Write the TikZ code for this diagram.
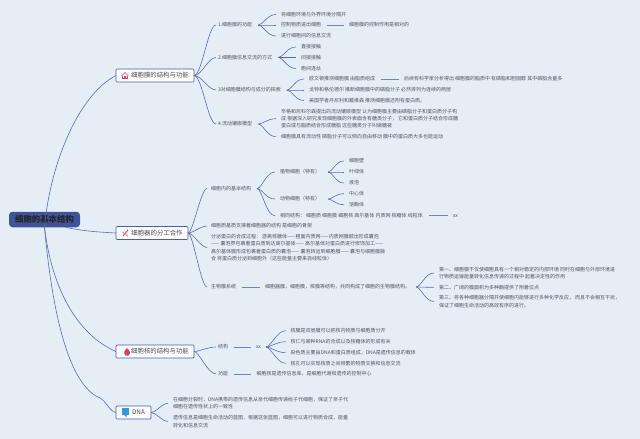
\documentclass[tikz,border=0pt]{standalone}
\usepackage{fontspec}
\setmainfont{Noto Sans CJK SC}
\usetikzlibrary{calc}
\definecolor{bgc}{HTML}{E6EEF5}
\definecolor{linec}{HTML}{5A6BB0}
\definecolor{boxc}{HTML}{4A5CA8}
\definecolor{rootc}{HTML}{3F539C}
\definecolor{txtc}{HTML}{50545E}
\definecolor{iconred}{HTML}{D8406A}
\definecolor{iconblue}{HTML}{2F9BE0}
\tikzset{
  x=1pt,y=-1pt,
  leaf/.style={anchor=west,inner sep=0pt,outer sep=0pt,font=\fontsize{5}{7.4}\selectfont,text=txtc,align=left},
  topic/.style={draw=boxc,fill=white,line width=0.7pt,rounded corners=1pt,inner sep=0pt,outer sep=0pt,minimum height=13pt,text=black!70,font=\fontsize{6.4}{8}\selectfont},
  rootbox/.style={fill=rootc,rounded corners=3.5pt,inner sep=0pt,outer sep=0pt,minimum width=71pt,minimum height=15.5pt,font=\bfseries\fontsize{8.4}{10}\selectfont,text=black!85},
  link/.style={draw=linec,line width=0.6pt},
  barlink/.style={draw=linec!85,line width=0.7pt},
}
% fork from the parent's east side (gap #3) to the child's west side (gap 5)
\newcommand{\fork}[3]{%
  \coordinate (fs) at ($(#1.east)+(#3,0)$);
  \coordinate (fe) at ($(#2.west)+(-5,0)$);
  \draw[link] (fs) .. controls ($(fs)+(5,0)$) and ($(fe)+(-9,0)$) .. (fe);}
% straight bar between two neighbouring texts
\newcommand{\barlk}[2]{\draw[barlink] ($(#1.east)+(6,0)$) -- ($(#2.west)+(-5.5,0)$);}
\begin{document}
\begin{tikzpicture}
\useasboundingbox (0,0) rectangle (640,439);
\fill[bgc] (0,0) rectangle (640,439);

% root and topics
\node[rootbox] (R) at (44.5,219.5) {细胞的基本结构};
\node[topic,minimum width=78pt] (T1) at (155,75.5) {\hspace{10pt}细胞膜的结构与功能};
\node[topic,minimum width=72pt] (T2) at (152,233) {\hspace{10pt}细胞器的分工合作};
\node[topic,minimum width=78pt] (T3) at (155,351.5) {\hspace{10pt}细胞核的结构与功能};
\node[topic,minimum width=35pt] (T4) at (133.5,412.5) {\hspace{10pt}DNA};

% root links
\draw[link] (R.south) .. controls (50,165) and (78,95) .. (T1.west);
\draw[link] ($(R.south)+(21,0)$) .. controls (82,231) and (98,232) .. (T2.west);
\draw[link] (R.south) .. controls (52,290) and (78,335) .. (T3.west);
\draw[link] (R.south) .. controls (52,310) and (68,385) .. (100,398) .. controls (106,401) and (110,412) .. (T4.west);

% icons
\begin{scope}[iconred,line width=0.6pt]
 \draw (121.5,76) -- (125,72.5) -- (128.5,76);
 \draw (122.7,75.5) -- (122.7,78.7) -- (127.3,78.7) -- (127.3,75.5);
 \fill (124.2,76.2) rectangle (125.8,78.7);
 \draw[line width=0.9pt] (123,236) -- (128,230);
 \draw[line width=0.9pt,iconred!65] (122.5,232) -- (128,236.5);
 \fill (127,348) .. controls (130,350.5) and (131,353) .. (128.6,355.5) -- (125.4,355.5) .. controls (123,353) and (124.5,350.5) .. (127,348) -- cycle;
\end{scope}
\fill[iconblue] (122,408) rectangle (128.5,414.5);
\fill[iconblue] (123.5,414.5) -- (126.5,414.5) -- (126.5,417) -- cycle;

% ---- topic 1
\node[leaf] (a1) at (218,25) {1.细胞膜的功能};
\node[leaf] (a2) at (218,57.5) {2.细胞膜信息交流的方式};
\node[leaf] (a3) at (218,90) {3对细胞膜结构与成分的探索};
\node[leaf] (a4) at (218,124) {4.流动镶嵌模型};
\foreach \n in {a1,a2,a3,a4} {\draw[link] (T1.east) .. controls ($(T1.east)+(8,0)$) and ($(\n.west)+(-10,0)$) .. ($(\n.west)+(-2,0)$);}

\node[leaf] (a11) at (281,14.5) {将细胞环境与外界环境分隔开};
\node[leaf] (a12) at (281,25) {控制物质进出细胞};
\node[leaf] (a13) at (281,36) {进行细胞间的信息交流};
\node[leaf] (a121) at (349,25) {细胞膜的控制作用是相对的};
\fork{a1}{a11}{6}\fork{a1}{a12}{6}\fork{a1}{a13}{6}
\barlk{a12}{a121}

\node[leaf] (a21) at (301,47) {直接接触};
\node[leaf] (a22) at (301,57.5) {间接接触};
\node[leaf] (a23) at (301,68.5) {胞间连丝};
\fork{a2}{a21}{6}\fork{a2}{a22}{6}\fork{a2}{a23}{6}

\node[leaf] (a31) at (309,79) {欧文顿推测细胞膜 由脂质组成};
\node[leaf] (a32) at (309,90) {戈特和格伦德尔 推断细胞膜中的磷脂分子 必然排列为连续的两层};
\node[leaf] (a33) at (309,100.5) {美国学者丹尼利和戴维森 推测细胞膜还附有蛋白质。};
\node[leaf] (a311) at (404,79) {后续有科学家分析得出 细胞膜的脂质中 有磷脂和胆固醇 其中磷脂含量多};
\fork{a3}{a31}{6}\fork{a3}{a32}{6}\fork{a3}{a33}{6}
\barlk{a31}{a311}

\node[leaf] (a41) at (281,118.7) {辛格和尼科尔森提出的流动镶嵌模型 认为细胞膜主要由磷脂分子和蛋白质分子构\\成 根据深入研究发现细胞膜的外表面含有糖类分子， 它和蛋白质分子结合形成糖\\蛋白或与脂质结合形成糖脂 这些糖类分子叫做糖被};
\node[leaf] (a42) at (281,136.7) {细胞膜具有流动性 磷脂分子可以侧向自由移动 膜中的蛋白质大多也能运动};
\fork{a4}{a41}{6}\fork{a4}{a42}{6}

% ---- topic 2
\node[leaf] (b1) at (211,188.5) {细胞内的基本结构};
\node[leaf] (b2) at (211,226) {细胞质基质支撑着细胞器的结构 是细胞的骨架};
\node[leaf] (b3) at (211,247.5) {分泌蛋白的合成过程： 游离核糖体——粗面内质网——内质网膜鼓出形成囊泡\\—— 囊泡界包裹着蛋白质到达高尔基体—— 高尔基体对蛋白质进行修饰加工——\\高尔基体膜形成包裹着蛋白质的囊泡—— 囊泡转运到细胞膜—— 囊泡与细胞膜融\\合 将蛋白质分泌到细胞外（这些能量主要来自线粒体）};
\node[leaf] (b4) at (211,287) {生物膜系统};
\foreach \n in {b1,b2,b3,b4} {\draw[link] (T2.east) .. controls ($(T2.east)+(5,0)$) and ($(\n.west)+(-10,0)$) .. ($(\n.west)+(-4,0)$);}

\node[leaf] (b11) at (280,172) {植物细胞（特有）};
\node[leaf] (b12) at (280,199) {动物细胞（特有）};
\node[leaf] (b13) at (280,215.7) {相同结构： 细胞质 细胞膜 细胞核 高尔基体 内质网 核糖体 线粒体};
\node[leaf] (b131) at (453,215.7) {xx};
\fork{b1}{b11}{6}\fork{b1}{b12}{6}\fork{b1}{b13}{6}
\barlk{b13}{b131}

\node[leaf] (b111) at (349,161) {细胞壁};
\node[leaf] (b112) at (349,172) {叶绿体};
\node[leaf] (b113) at (349,183) {液泡};
\fork{b11}{b111}{8}\fork{b11}{b112}{8}\fork{b11}{b113}{8}
\node[leaf] (b121) at (349,193.7) {中心体};
\node[leaf] (b122) at (349,204.7) {溶酶体};
\fork{b12}{b121}{8}\fork{b12}{b122}{8}

\node[leaf] (b41) at (265,287) {细胞器膜，细胞膜，核膜等结构，共同构成了细胞的生物膜结构。};
\barlk{b4}{b41}
\node[leaf] (b411) at (439,273) {第一、细胞膜不仅使细胞具有一个相对稳定的内部环境 同时在细胞与外部环境进\\行物质运输能量转化信息传递的过程中 起着决定性的作用};
\node[leaf] (b412) at (439,287.3) {第二、广阔的膜面积为多种酶提供了附着位点};
\node[leaf] (b413) at (439,301.5) {第三、将各种细胞器分隔开使细胞内能够进行多种化学反应， 而且不会相互干扰，\\保证了细胞生命活动的高效有序的进行。};
\fork{b41}{b411}{6}\fork{b41}{b412}{6}\fork{b41}{b413}{6}

% ---- topic 3
\node[leaf] (c1) at (218,347) {结构};
\node[leaf] (c2) at (218,374) {功能};
\foreach \n in {c1,c2} {\draw[link] (T3.east) .. controls ($(T3.east)+(5,0)$) and ($(\n.west)+(-10,0)$) .. ($(\n.west)+(-2,0)$);}
\node[leaf] (c11) at (256,347) {xx};
\barlk{c1}{c11}
\node[leaf] (c21) at (256.7,374) {细胞核是遗传信息库，是细胞代谢和遗传的控制中心};
\barlk{c2}{c21}
\node[leaf] (c111) at (290.7,330.7) {核膜是双层膜可以把核内物质与细胞质分开};
\node[leaf] (c112) at (290.7,341.7) {核仁与某种RNA的合成以及核糖体的形成有关};
\node[leaf] (c113) at (290.7,352.7) {染色质主要由DNA和蛋白质组成，DNA是遗传信息的载体};
\node[leaf] (c114) at (290.7,363.3) {核孔可以实现核质之间频繁的物质交换和信息交流};
\fork{c11}{c111}{5}\fork{c11}{c112}{5}\fork{c11}{c113}{5}\fork{c11}{c114}{5}

% ---- topic 4
\node[leaf] (d1) at (173,403.3) {在细胞分裂时，DNA携带的遗传信息从亲代细胞传递给子代细胞，保证了亲子代\\细胞在遗传性状上的一致性};
\node[leaf] (d2) at (173,421.4) {遗传信息是细胞生命活动的蓝图，根据这张蓝图，细胞可以进行物质合成，能量\\转化和信息交流};
\foreach \n in {d1,d2} {\draw[link] (T4.east) .. controls ($(T4.east)+(5,0)$) and ($(\n.west)+(-11,0)$) .. ($(\n.west)+(-5,0)$);}
\end{tikzpicture}
\end{document}
